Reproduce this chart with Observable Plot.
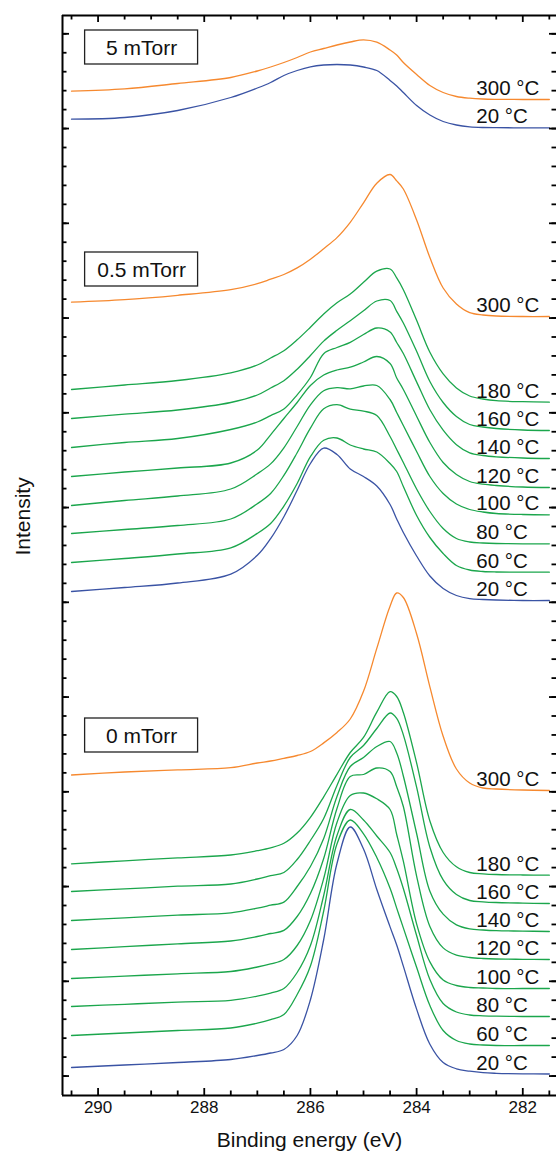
<!DOCTYPE html>
<html>
<head>
<meta charset="utf-8">
<script src="https://cdn.jsdelivr.net/npm/d3@7"></script>
<script src="https://cdn.jsdelivr.net/npm/@observablehq/plot@0.6"></script>
<style>
html, body { margin: 0; padding: 0; background: #fff; }
#chart { width: 556px; height: 1152px; }
</style>
</head>
<body>
<div id="chart"></div>
<script>
// Binding energy grid (eV), shared by all spectra
const energy = [290.5, 289.5, 288.5, 287.5, 287, 286.75, 286.5, 286.25, 286, 285.75, 285.5, 285.25, 285,
  284.75, 284.5, 284.375, 284.25, 284, 283.75, 283.5, 283.25, 283, 282.75, 282.5, 282, 281.5];

// 5 mTorr (stacked intensity, a.u.)
const p5_300 = [1004.3, 1006.6, 1012, 1018, 1024.5, 1028.5, 1033, 1038, 1043.5, 1047, 1050.5, 1053.5, 1055.7, 1053.3, 1045.5, 1040.5, 1033, 1021, 1010, 1003, 999, 997.3, 996.5, 996.2, 996, 996];
const p5_20 = [976.3, 978, 985, 998, 1007.5, 1013, 1020, 1025, 1028.7, 1030.5, 1031, 1030.5, 1028.5, 1025, 1015, 1009.5, 1003, 990, 980.5, 974, 970.5, 968.7, 968, 967.8, 967.7, 967.7];

// 0.5 mTorr
const p05_300 = [793.3, 795.8, 800.2, 805.9, 811.8, 816.3, 821, 827.6, 836.3, 846.8, 857.9, 873.2, 892.7, 912.3, 921, 914.6, 906.5, 875.6, 838, 807.5, 791.5, 782.8, 780.5, 779.5, 779, 779];
const p05_180 = [706, 710.5, 715, 722.7, 730.5, 737.5, 744.8, 755.7, 768.3, 781.5, 792.7, 801.5, 813.2, 824.3, 826.5, 817.6, 805.8, 775.2, 743.3, 721.7, 707.6, 699.5, 696.5, 694.8, 693.8, 693.3];
const p05_160 = [677, 681.3, 685.5, 693, 700.5, 707.5, 714.8, 726.3, 740, 754.4, 765.2, 774.8, 784.7, 794.5, 795, 784.2, 772.5, 744.2, 714, 693, 679, 671, 668.5, 667, 665.5, 665];
const p05_140 = [648, 653, 657, 666, 673.5, 679.9, 686.5, 700.7, 718, 741.8, 748, 753.2, 761, 767.5, 763.5, 753, 742, 713.6, 685.7, 665.3, 650.8, 642.6, 640, 638.7, 637.5, 637];
const p05_120 = [619, 623.5, 627.5, 632.5, 645.4, 660.7, 677, 693, 710, 720.5, 725.5, 728.3, 733.5, 739, 732, 717.5, 706, 679.3, 653, 633, 621, 614, 611.3, 610, 608.5, 608];
const p05_100 = [590, 595, 599.5, 606.5, 621.8, 631.6, 647.7, 669, 690.7, 704.8, 707.8, 706.7, 709.5, 710, 696, 683, 670, 644, 619, 602, 591.5, 586, 583.5, 582, 581, 580.7];
const p05_80 = [562, 566, 570, 576.5, 591.8, 602, 620.1, 642.8, 667.3, 686.7, 690.8, 686.4, 684.4, 680, 659, 646, 633, 606.5, 584, 567, 557, 553.5, 552.5, 552, 551.7, 551.7];
const p05_60 = [533, 537, 541.5, 547.6, 562.1, 572, 589.4, 612, 638.8, 655.2, 657.5, 650.5, 646.5, 643.5, 632, 624, 609, 580, 558, 542, 530, 525.5, 524, 523.5, 523.3, 523.3];
const p05_20 = [504, 508, 512.5, 521.4, 540.2, 556.9, 578.8, 605.2, 632, 647.4, 641, 626.5, 619, 609.5, 591, 576.5, 563, 539.5, 519.5, 507, 500, 496.8, 496, 495.5, 495, 495];

// 0 mTorr
const p0_300 = [320.5, 323.5, 325.7, 327.8, 332.5, 334.5, 337.2, 340, 344, 352.6, 363, 376.5, 404.2, 447.1, 489.3, 502.5, 498, 461.8, 408.7, 359.3, 326.5, 312.5, 307.5, 306.5, 305.5, 305];
const p0_180 = [231.7, 234.7, 237.6, 240.5, 244.8, 247.6, 252.2, 262.5, 278.2, 298.7, 321.2, 343, 358.1, 383.3, 403.8, 399, 383, 332.6, 274.5, 243, 228.7, 223, 221.7, 221, 220.5, 220.3];
const p0_160 = [204, 206.6, 209.3, 211.5, 216.5, 219.8, 223, 236, 255, 277, 310, 338, 350, 367, 382.5, 377.2, 360.6, 308.3, 248.3, 215.6, 201, 195, 193.7, 193, 192.4, 192];
const p0_140 = [175, 177.6, 180.3, 182.7, 187.3, 190.3, 193.4, 209, 229, 257, 299, 329, 338, 349, 354, 342.6, 319.5, 262, 204.3, 181.3, 170.7, 166.7, 165.5, 164.8, 164.4, 164];
const p0_120 = [146, 148.8, 151.7, 154.5, 159, 162, 165.1, 179, 202, 237, 287, 319, 321, 327.5, 324, 308.7, 289, 219.4, 169, 147.6, 140.3, 138, 137, 136.5, 136.2, 136];
const p0_100 = [117, 119.4, 121.7, 124, 128.5, 131.6, 136, 150, 175, 217, 273, 300, 302.5, 296.7, 286, 261, 234.3, 171.6, 133.6, 115.5, 110, 108, 107.5, 107, 107, 107];
const p0_80 = [89, 91.2, 93.4, 95.2, 99.4, 102.5, 107, 123, 150, 200, 260, 286, 275.5, 259.5, 243, 227, 207, 160, 116, 92, 83.5, 80.5, 79.7, 79.3, 79, 79];
const p0_60 = [60, 62.5, 65, 67.5, 72.3, 75.8, 81, 101, 129.5, 184.5, 251.5, 275.5, 261.7, 238, 207.2, 187.4, 167.6, 128.2, 90, 65, 55, 51.5, 50.5, 50, 50, 50];
const p0_20 = [28, 30.5, 33, 36, 40, 42.5, 46, 60, 95.8, 156, 232, 268.5, 246.4, 206, 168.6, 150.5, 129.4, 86.4, 51.3, 33, 26.7, 24.3, 22.8, 22.2, 21.7, 21.5];

// series: pressure, temperature (°C), values
const pressures = ["5 mTorr", "0.5 mTorr", "0 mTorr"];
const temps5 = [300, 20];
const temps05 = [300, 180, 160, 140, 120, 100, 80, 60, 20];
const temps0 = [300, 180, 160, 140, 120, 100, 80, 60, 20];
const values5 = [p5_300, p5_20];
const values05 = [p05_300, p05_180, p05_160, p05_140, p05_120, p05_100, p05_80, p05_60, p05_20];
const values0 = [p0_300, p0_180, p0_160, p0_140, p0_120, p0_100, p0_80, p0_60, p0_20];

// x tick values (eV)
const xMajor = [290, 288, 286, 284, 282];
const xMinor = [290.5, 289.5, 289, 288.5, 287.5, 287, 286.5, 285.5, 285, 284.5, 283.5, 283, 282.5, 281.5];

// panel label anchors (eV, intensity)
const panelLabelEnergy = 289.18;
const panelLabelIntensity = [1048, 826, 360];

// ---- build ----
const colors = {cold: "#3a53a4", mid: "#1ba64c", hot: "#f6892f"};
const colorFor = t => t === 20 ? colors.cold : t === 300 ? colors.hot : colors.mid;

const series = [];
[[temps5, values5], [temps05, values05], [temps0, values0]].forEach(([ts, vs], p) => {
  ts.forEach((t, i) => series.push({pressure: pressures[p], temp: t, values: vs[i]}));
});

const W = 556, H = 1152, mt = 15, mb = 57, ml = 62, mr = 0;
const pw = W - ml - mr, ph = H - mt - mb;
const xDomain = [290.67, 281.365];
const yDomain = [0, 1080];
const yMajor = d3.range(12).map(k => 1061.7 - 94.75 * k);
const yMinor = d3.range(57).map(j => 1061.7 - 18.95 * j).filter(v => v > 2);

const boxHalfW = 1.064, boxHalfH = 17;
const panels = pressures.map((name, i) => ({name, e: panelLabelEnergy, v: panelLabelIntensity[i]}));

const marks = [];
for (const s of series) {
  marks.push(Plot.line(energy.map((e, i) => ({e, v: s.values[i]})), {
    x: "e", y: "v", stroke: colorFor(s.temp), strokeWidth: 1.3, curve: "catmull-rom"
  }));
}
const last = energy.length - 1;
marks.push(Plot.text(series, {
  x: () => energy[last], y: d => d.values[last], text: d => `${d.temp} °C`,
  textAnchor: "start", lineAnchor: "bottom", dx: -73, dy: -4.5, fontSize: 20.5, fill: "#111"
}));
marks.push(Plot.rect(panels, {
  x1: d => d.e + boxHalfW, x2: d => d.e - boxHalfW, y1: d => d.v - boxHalfH, y2: d => d.v + boxHalfH,
  fill: "none", stroke: "#222", strokeWidth: 1.3
}));
marks.push(Plot.text(panels, {x: "e", y: "v", text: "name", fontSize: 21, lineAnchor: "middle", dy: 1, fill: "#111"}));

// ticks (inward) on all four sides
const tk = {stroke: "#000", strokeWidth: 1.8};
marks.push(Plot.ruleX(xMajor, {x: d => d, insetTop: ph - 7, ...tk}));
marks.push(Plot.ruleX(xMajor, {x: d => d, insetBottom: ph - 7, ...tk}));
marks.push(Plot.ruleX(xMinor, {x: d => d, insetTop: ph - 4.5, ...tk}));
marks.push(Plot.ruleX(xMinor, {x: d => d, insetBottom: ph - 4.5, ...tk}));
marks.push(Plot.ruleY(yMajor, {y: d => d, insetRight: pw - 7, ...tk}));
marks.push(Plot.ruleY(yMajor, {y: d => d, insetLeft: pw - 7, ...tk}));
marks.push(Plot.ruleY(yMinor, {y: d => d, insetRight: pw - 4.5, ...tk}));
marks.push(Plot.ruleY(yMinor, {y: d => d, insetLeft: pw - 4.5, ...tk}));
// frame
marks.push(Plot.ruleX([xDomain[0]], {x: d => d, stroke: "#000", strokeWidth: 2}));
marks.push(Plot.ruleY([yDomain[0], yDomain[1]], {y: d => d, stroke: "#000", strokeWidth: 2}));

// tick labels and axis titles
marks.push(Plot.text(xMajor, {x: d => d, frameAnchor: "bottom", text: d => String(d), dy: 12, lineAnchor: "middle", fontSize: 17, fill: "#111"}));
marks.push(Plot.text(["Binding energy (eV)"], {frameAnchor: "bottom", text: d => d, dy: 45, lineAnchor: "middle", fontSize: 21, fill: "#111"}));
marks.push(Plot.text(["Intensity"], {frameAnchor: "left", text: d => d, dx: -39, rotate: -90, lineAnchor: "middle", fontSize: 21, fill: "#111"}));

const chart = Plot.plot({
  width: W, height: H,
  marginTop: mt, marginBottom: mb, marginLeft: ml, marginRight: mr,
  x: {domain: xDomain, axis: null},
  y: {domain: yDomain, axis: null},
  style: {fontFamily: "'Liberation Sans', Arial, Helvetica, sans-serif", background: "white", overflow: "visible"},
  marks
});
document.getElementById("chart").appendChild(chart);
</script>
</body>
</html>
